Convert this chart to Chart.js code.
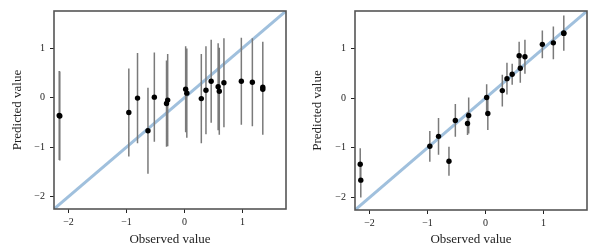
<!DOCTYPE html>
<html>
<head>
<meta charset="utf-8">
<script src="https://cdn.jsdelivr.net/npm/chart.js@4/dist/chart.umd.min.js"></script>
<style>
  html, body { margin: 0; padding: 0; background: #fff; }
  #wrap { display: flex; width: 600px; height: 250px; }
  .cell { position: relative; width: 300px; height: 250px; }
</style>
</head>
<body>
<div id="wrap">
  <div class="cell"><canvas id="left"></canvas></div>
  <div class="cell"><canvas id="right"></canvas></div>
</div>
<script>
// Observed values (shared by both panels)
const observed = [-2.16, -2.15, -0.96, -0.81, -0.63, -0.52, -0.31, -0.29, 0.02, 0.04,
                  0.29, 0.37, 0.46, 0.58, 0.60, 0.68, 0.98, 1.17, 1.35, 1.35];

// Left panel: predictions and error half-widths
const predLeft = [-0.36, -0.37, -0.30, -0.01, -0.67, 0.01, -0.12, -0.05, 0.17, 0.09,
                  -0.02, 0.15, 0.33, 0.22, 0.13, 0.30, 0.33, 0.31, 0.21, 0.17];
const errLeft = [0.90, 0.90, 0.89, 0.91, 0.87, 0.90, 0.87, 0.93, 0.87, 0.90,
                 0.90, 0.89, 0.84, 0.88, 0.88, 0.90, 0.88, 0.89, 0.92, 0.92];

// Right panel: predictions and error half-widths
const predRight = [-1.33, -1.65, -0.97, -0.77, -1.27, -0.45, -0.51, -0.35, 0.01, -0.31,
                   0.15, 0.39, 0.48, 0.85, 0.60, 0.83, 1.08, 1.11, 1.31, 1.30];
const errRight = [0.32, 0.35, 0.31, 0.37, 0.29, 0.33, 0.23, 0.36, 0.27, 0.33,
                  0.32, 0.32, 0.21, 0.28, 0.29, 0.34, 0.28, 0.33, 0.35, 0.35];

const axisRange = [-2.25, 1.75];
const tickValues = [-2, -1, 0, 1];

const SERIF = "'Liberation Serif', 'DejaVu Serif', serif";

function fmt(v) {
  return v < 0 ? '\u2212' + Math.abs(v) : String(v);
}

// error bars as one line dataset, segments split by gaps
function errorSegments(pred, err) {
  const pts = [];
  observed.forEach((x, i) => {
    pts.push({ x: x, y: pred[i] - err[i] });
    pts.push({ x: x, y: pred[i] + err[i] });
    pts.push({ x: x, y: null });
  });
  return pts;
}

const frame = {
  id: 'frame',
  afterDraw(chart) {
    const a = chart.chartArea;
    const ctx = chart.ctx;
    ctx.save();
    ctx.strokeStyle = '#555';
    ctx.lineWidth = 1.6;
    ctx.strokeRect(a.left, a.top, a.right - a.left, a.bottom - a.top);
    ctx.restore();
  }
};

function makeChart(id, pred, err, yWidth, padRight, xHeight) {
  const ctx = document.getElementById(id).getContext('2d');
  return new Chart(ctx, {
    type: 'scatter',
    data: {
      datasets: [
        {
          type: 'line',
          data: axisRange.map(v => ({ x: v, y: v })),
          borderColor: '#a0c0dd',
          borderWidth: 3,
          pointRadius: 0,
          order: 3
        },
        {
          type: 'line',
          data: errorSegments(pred, err),
          borderColor: '#7a7a7a',
          borderWidth: 1.5,
          pointRadius: 0,
          spanGaps: false,
          order: 2
        },
        {
          data: observed.map((x, i) => ({ x: x, y: pred[i] })),
          backgroundColor: '#000',
          borderWidth: 0,
          pointRadius: 2.7,
          order: 1
        }
      ]
    },
    options: {
      responsive: false,
      animation: false,
      events: [],
      layout: { padding: { top: 10, right: padRight, left: 0, bottom: 0 } },
      plugins: { legend: { display: false }, tooltip: { enabled: false } },
      scales: {
        x: {
          type: 'linear',
          min: axisRange[0],
          max: axisRange[1],
          afterBuildTicks: s => { s.ticks = tickValues.map(v => ({ value: v })); },
          afterFit: s => { s.height = xHeight; },
          grid: { display: true, drawOnChartArea: false, drawTicks: true, tickLength: 4, color: '#222', tickWidth: 1 },
          border: { display: false },
          ticks: { color: '#222', padding: 3, font: { family: SERIF, size: 10 }, callback: v => fmt(v), maxRotation: 0 },
          title: { display: true, text: 'Observed value', color: '#222', font: { family: SERIF, size: 13 }, padding: { top: 0, bottom: 3 } }
        },
        y: {
          type: 'linear',
          min: axisRange[0],
          max: axisRange[1],
          afterBuildTicks: s => { s.ticks = tickValues.map(v => ({ value: v })); },
          afterFit: s => { s.width = yWidth; },
          grid: { display: true, drawOnChartArea: false, drawTicks: true, tickLength: 4, color: '#222', tickWidth: 1 },
          border: { display: false },
          ticks: { color: '#222', padding: 5, font: { family: SERIF, size: 10 }, callback: v => fmt(v) },
          title: { display: true, text: 'Predicted value', color: '#222', font: { family: SERIF, size: 13 }, padding: { top: 10, bottom: 0 } }
        }
      }
    },
    plugins: [frame]
  });
}

function sizeCanvas(id) {
  const c = document.getElementById(id);
  c.width = 300; c.height = 250;
  c.style.width = '300px'; c.style.height = '250px';
}
sizeCanvas('left');
sizeCanvas('right');

makeChart('left', predLeft, errLeft, 54, 14, 41);
makeChart('right', predRight, errRight, 55, 13, 40);
</script>
</body>
</html>
